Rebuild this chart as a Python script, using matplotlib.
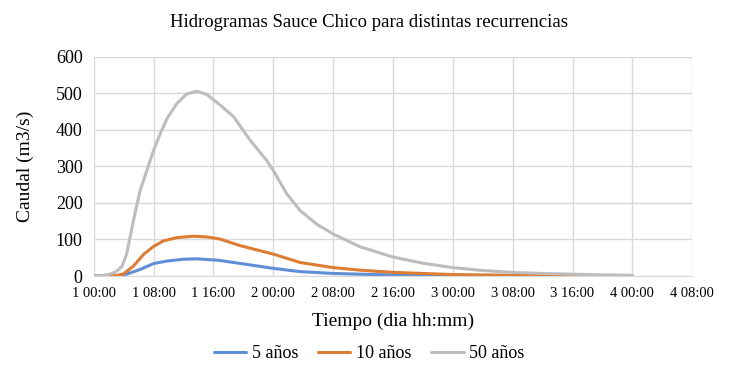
import numpy as np
import matplotlib.pyplot as plt

# Hidrogramas Sauce Chico - caudal (m3/s) vs horas desde el dia 1 00:00
t_5 = [0, 2, 3, 4.4, 6.2, 8, 9.8, 12, 13.8, 16.7, 18.7, 24, 27.6, 32, 35.6, 40, 44, 48]
q_5 = [0, 0, 0.5, 5, 18, 34, 41, 46, 47, 43, 37, 21, 12, 7, 5, 3, 2, 1]

t_10 = [0, 2, 3, 4, 5.3, 6.7, 8, 9.3, 11.1, 13.3, 15.1, 16.9, 19.6, 24, 27.6, 32, 35.6, 40, 44, 48, 56, 64, 72]
q_10 = [0, 0, 1, 6, 27, 60, 81, 96, 105, 109, 107, 101, 83, 60, 37, 23, 16, 10, 7, 4, 2, 1, 0.5]

t_50 = [0, 1, 2, 3, 3.8, 4.4, 5.3, 6.2, 7.1, 8, 8.9, 9.8, 11.1, 12.4, 13.8, 15.1, 16.9, 18.7, 20.9, 23.1,
        24, 25.8, 27.6, 29.8, 32, 35.6, 40, 44, 48, 52, 56, 60, 64, 68, 72]
q_50 = [0, 1, 4, 12, 27, 60, 151, 234, 289, 344, 390, 431, 472, 498, 506, 497, 468, 436, 372, 317,
        289, 225, 179, 142, 115, 80, 52, 35, 23, 15, 10, 7, 5, 3, 2]

series = [("5 años", t_5, q_5, "#5f8fd6"),
          ("10 años", t_10, q_10, "#dd7d33"),
          ("50 años", t_50, q_50, "#bdbdbd")]

x_ticks = list(range(0, 81, 8))
x_labels = [f"{1 + h // 24} {h % 24:02d}:00" for h in x_ticks]

plt.rcParams['font.family'] = ['Liberation Serif', 'DejaVu Serif']

fig = plt.figure(figsize=(7.38, 3.69), dpi=100)
ax = fig.add_axes([0.127, 0.252, 0.811, 0.594])

for nombre, t, q, color in series:
    ax.plot(t, q, color=color, linewidth=2.2, label=nombre,
            solid_capstyle='round', solid_joinstyle='round')

ax.set_xlim(0, 80)
ax.set_ylim(0, 600)
ax.set_xticks(x_ticks)
ax.set_xticklabels(x_labels, fontsize=10.5)
ax.set_yticks(range(0, 601, 100))
ax.tick_params(axis='y', labelsize=13)
ax.tick_params(length=0, pad=8, colors='black')
ax.grid(True, color='#d9d9d9', linewidth=1)
ax.set_axisbelow(True)
for lado in ['top', 'right', 'left']:
    ax.spines[lado].set_visible(False)
ax.spines['bottom'].set_color('#d9d9d9')

ax.set_xlabel('Tiempo (dia hh:mm)', fontsize=14, labelpad=9)
ax.set_ylabel('Caudal (m3/s)', fontsize=14, labelpad=16)
fig.suptitle('Hidrogramas Sauce Chico para distintas recurrencias', fontsize=13.5, y=0.962)

fig.legend(loc='center', bbox_to_anchor=(0.5, 1 - 354 / 369), ncol=3, frameon=False,
           fontsize=13, handlelength=1.8, handletextpad=0.3, columnspacing=1.1)

fig.savefig('out.png', dpi=100)
